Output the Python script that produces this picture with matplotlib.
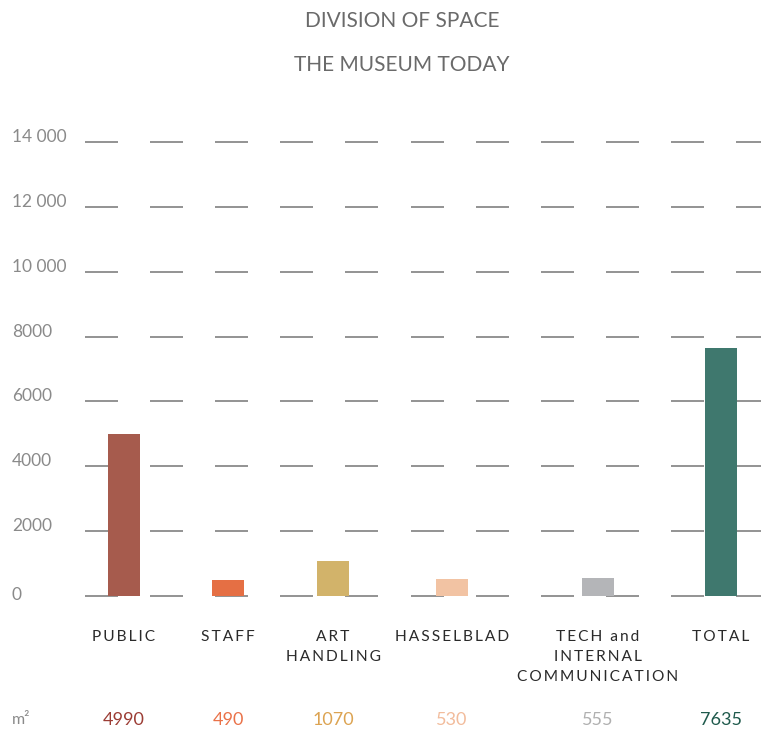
"""
Division of space - the museum today
"""

import matplotlib
matplotlib.use('Agg')
import matplotlib.pyplot as plt

# Data
categories = ['PUBLIC', 'STAFF', 'ART\nHANDLING', 'HASSELBLAD',
              'TECH and\nINTERNAL\nCOMMUNICATION', 'TOTAL']
areas = [4990, 490, 1070, 530, 555, 7635]
area_labels = ['4990', '490', '1070', '530', '555', '7635']
y_ticks = [0, 2000, 4000, 6000, 8000, 10000, 12000, 14000]
y_tick_labels = ['0', '2000', '4000', '6000', '8000', '10 000', '12 000', '14 000']

# Styling
bar_colors = ['#a65b4d', '#e56f44', '#d2b36a', '#f2c3a3', '#b4b5b8', '#3f786e']
value_colors = ['#9c3d35', '#ea7249', '#dca351', '#f2bc9c', '#b0b0b0', '#1f5a4c']
bar_x = [124, 228, 333, 452, 598, 721]   # layout positions in pixels
W, H = 761, 735

plt.rcParams['font.family'] = ['Lato', 'DejaVu Sans']

fig = plt.figure(figsize=(W / 100, H / 100), dpi=100)
ax = fig.add_axes([0, 139 / H, 1, 454 / H])
ax.set_xlim(0, W)
ax.set_ylim(0, 14000)
ax.axis('off')

# broken gridlines
for t in y_ticks:
    for k in range(12):
        x0 = 85 + 65.1 * k
        ax.hlines(t, x0, x0 + 33, color='#939393', linewidth=1.4, zorder=1,
                  clip_on=False)

ax.bar(bar_x, areas, width=32, color=bar_colors, zorder=2)

for t, lab in zip(y_ticks, y_tick_labels):
    off = -4 if t == 0 else 0
    ax.annotate(lab, xy=(12, t), xytext=(0, off), textcoords='offset pixels',
                ha='left', va='baseline', fontsize=12.5, color='#8a8a8a',
                annotation_clip=False)

def spaced(s):
    return '\u2009'.join(s)

for x, cat in zip(bar_x, categories):
    txt = '\n'.join(spaced(line) for line in cat.split('\n'))
    ax.annotate(txt, xy=(x, 0), xytext=(0, -34), textcoords='offset pixels',
                ha='center', va='top', fontsize=11.2, color='#2a2a2a',
                linespacing=1.55, annotation_clip=False)

for x, lab, c in zip(bar_x, area_labels, value_colors):
    ax.annotate(lab, xy=(x, 0), xytext=(0, -124), textcoords='offset pixels',
                ha='center', va='center', fontsize=13, color=c,
                annotation_clip=False)

ax.annotate('m\u00b2', xy=(12, 0), xytext=(0, -124), textcoords='offset pixels',
            ha='left', va='center', fontsize=11.5, color='#8a8a8a',
            annotation_clip=False)

fig.text(402 / W, 1 - 21 / H, 'DIVISION OF SPACE', ha='center', va='center',
         fontsize=15, color='#6a6a6a')
fig.text(402 / W, 1 - 65 / H, 'THE MUSEUM TODAY', ha='center', va='center',
         fontsize=15, color='#6a6a6a')

fig.savefig('out.png', dpi=100, facecolor='white')
